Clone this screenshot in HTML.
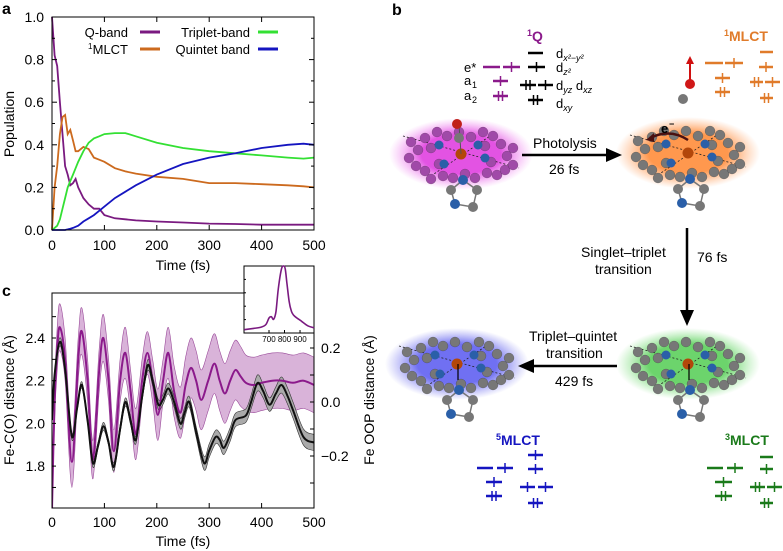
<!DOCTYPE html>
<html><head><meta charset="utf-8"><style>
html,body{margin:0;padding:0;background:#fff;}
svg{display:block;font-family:"Liberation Sans",sans-serif;}
</style></head><body>
<svg id="fig" width="783" height="551" viewBox="0 0 783 551" xmlns="http://www.w3.org/2000/svg">
<defs>
<radialGradient id="gP"><stop offset="0.55" stop-color="#e040e0" stop-opacity="0.9"/><stop offset="1" stop-color="#f080f0" stop-opacity="0"/></radialGradient>
<radialGradient id="gO"><stop offset="0.55" stop-color="#ff8c3a" stop-opacity="0.9"/><stop offset="1" stop-color="#ffa060" stop-opacity="0"/></radialGradient>
<radialGradient id="gG"><stop offset="0.55" stop-color="#5ccf5c" stop-opacity="0.9"/><stop offset="1" stop-color="#80e080" stop-opacity="0"/></radialGradient>
<radialGradient id="gB"><stop offset="0.55" stop-color="#6060f0" stop-opacity="0.9"/><stop offset="1" stop-color="#8080f0" stop-opacity="0"/></radialGradient>
<marker id="ah" viewBox="0 0 10 10" refX="2" refY="5" markerWidth="5" markerHeight="5" orient="auto"><path d="M0,0 L10,5 L0,10 z" fill="#000"/></marker>
</defs>
<g id="pa"></g>
<g id="pc"></g>
<g id="pb"></g>
</svg>
<script>
// ---------- Panel a data ----------
const aTimes = [0,5,10,15,20,25,30,35,40,45,50,60,70,80,90,100,120,140,160,200,250,300,350,400,450,480,500];
const qBand   = [1.0,0.82,0.77,0.6,0.45,0.3,0.26,0.21,0.22,0.24,0.2,0.15,0.12,0.1,0.1,0.07,0.055,0.05,0.045,0.04,0.035,0.03,0.028,0.025,0.025,0.025,0.025];
const mlct1   = [0,0.2,0.3,0.45,0.53,0.54,0.45,0.47,0.42,0.37,0.37,0.39,0.38,0.34,0.33,0.32,0.29,0.275,0.265,0.25,0.24,0.22,0.22,0.215,0.21,0.205,0.2];
const triplet = [0,0.01,0.02,0.05,0.1,0.15,0.2,0.23,0.26,0.29,0.32,0.37,0.41,0.43,0.44,0.45,0.455,0.455,0.44,0.41,0.385,0.37,0.36,0.35,0.34,0.335,0.34];
const quintet = [0,0,0,0,0,0,0.003,0.006,0.01,0.015,0.02,0.04,0.055,0.07,0.09,0.11,0.15,0.18,0.21,0.26,0.31,0.34,0.36,0.385,0.4,0.405,0.4];
const aYTicks = ["0.0","0.2","0.4","0.6","0.8","1.0"];
const xTickLabels = ["0","100","200","300","400","500"];
// ---------- Panel c data ----------
const cTimes = [0,5,10,15,25,38,50,57,68,78,90,98,108,118,130,140,150,160,172,182,192,202,212,222,233,245,255,265,275,285,298,310,320,330,340,350,360,370,385,400,420,440,460,480,500];
const feCO   = [1.6,2.1,2.35,2.45,2.3,1.82,2.3,2.43,2.2,1.83,2.25,2.40,2.2,1.87,2.2,2.33,2.15,1.95,2.2,2.33,2.2,2.04,2.2,2.33,2.15,2.05,2.18,2.26,2.2,2.11,2.2,2.28,2.2,2.14,2.2,2.25,2.22,2.19,2.18,2.19,2.2,2.2,2.19,2.2,2.18];
const feCOSpread = [0.02,0.08,0.1,0.11,0.1,0.12,0.1,0.11,0.1,0.09,0.1,0.11,0.1,0.1,0.1,0.12,0.1,0.12,0.1,0.1,0.1,0.12,0.1,0.12,0.12,0.12,0.13,0.14,0.14,0.14,0.14,0.14,0.14,0.14,0.14,0.14,0.14,0.13,0.13,0.13,0.13,0.13,0.13,0.13,0.13];
const cBlackTimes = [0,5,15,25,38,48,57,68,78,88,98,108,118,130,140,150,160,172,183,193,203,212,222,233,245,253,262,275,290,300,312,320,328,340,350,370,380,392,403,415,427,438,450,460,480,500];
const feOOP  = [-0.067,0.1,0.223,0.12,-0.128,-0.02,0.063,-0.07,-0.226,-0.16,-0.09,-0.15,-0.24,-0.1,0.0,-0.07,-0.14,0.02,0.137,0.07,-0.01,0.01,0.05,0.0,-0.08,-0.04,0.0,-0.11,-0.226,-0.18,-0.13,-0.14,-0.17,-0.12,-0.067,-0.05,0.0,0.07,0.04,-0.01,0.03,0.063,0.02,-0.03,-0.13,-0.15];
const oopSpread = [0.01,0.012,0.015,0.012,0.012,0.012,0.012,0.012,0.015,0.012,0.015,0.012,0.015,0.015,0.015,0.015,0.015,0.015,0.02,0.018,0.018,0.018,0.02,0.02,0.02,0.02,0.02,0.02,0.025,0.025,0.025,0.025,0.025,0.025,0.025,0.025,0.025,0.03,0.025,0.025,0.025,0.03,0.03,0.03,0.03,0.03];
const cLeftTicks = [1.8,2.0,2.2,2.4];
const cLeftLabels = ["1.8","2.0","2.2","2.4"];
const cRightTicks = [-0.2,0,0.2];
const cRightLabels = ["\u22120.2","0.0","0.2"];
// inset spectrum
const specFreq = [540,600,650,680,700,715,730,745,760,780,795,805,815,830,845,860,880,910,950,990];
const specInt  = [0.02,0.04,0.06,0.1,0.2,0.22,0.18,0.3,0.65,0.95,1.0,0.95,0.75,0.45,0.3,0.24,0.2,0.15,0.08,0.05];
const insetTicks = [700,800,900];

const NS="http://www.w3.org/2000/svg";
function el(tag,attrs,parent){const e=document.createElementNS(NS,tag);for(const k in attrs)e.setAttribute(k,attrs[k]);parent.appendChild(e);return e;}
function txt(s,x,y,parent,o){const t=el('text',Object.assign({x:x,y:y,'font-size':14,fill:'#000'},o||{}),parent);t.textContent=s;return t;}
function poly(xs,ys){return xs.map((x,i)=>(i?'L':'M')+x.toFixed(1)+','+ys[i].toFixed(1)).join('');}
function smooth(xs,ys){let d='M'+xs[0]+','+ys[0];for(let i=0;i<xs.length-1;i++){const x0=xs[Math.max(0,i-1)],y0=ys[Math.max(0,i-1)],x1=xs[i],y1=ys[i],x2=xs[i+1],y2=ys[i+1],x3=xs[Math.min(xs.length-1,i+2)],y3=ys[Math.min(xs.length-1,i+2)];d+='C'+(x1+(x2-x0)/6).toFixed(1)+','+(y1+(y2-y0)/6).toFixed(1)+' '+(x2-(x3-x1)/6).toFixed(1)+','+(y2-(y3-y1)/6).toFixed(1)+' '+x2.toFixed(1)+','+y2.toFixed(1);}return d;}

// ===== Panel a =====
(function(){
const g=document.getElementById('pa');
const L=52,R=314,T=17,B=230;
const X=t=>L+(t/500)*(R-L), Y=v=>B-v*(B-T);
let t=txt('a',2,14,g,{'font-weight':'bold','font-size':16});


const series=[[qBand,'#7a1a80','q-band-line'],[mlct1,'#cc6a1e','mlct1-line'],[triplet,'#33e033','triplet-band-line'],[quintet,'#1515c0','quintet-band-line']];
series.forEach(s=>{const p=el('path',{d:poly(aTimes.map(X),s[0].map(Y)),fill:'none',stroke:s[1],'stroke-width':1.8},g);

});
const fr=el('rect',{x:L,y:T,width:R-L,height:B-T,fill:'none',stroke:'#000','stroke-width':1},g);


for(let i=0;i<=10;i++){const y=Y(i/10),len=i%2?3:5;el('line',{x1:L,x2:L+len,y1:y,y2:y,stroke:'#000'},g);el('line',{x1:R,x2:R-len,y1:y,y2:y,stroke:'#000'},g);}
for(let i=0;i<=5;i++){const x=X(i*100);el('line',{x1:x,x2:x,y1:B,y2:B-5,stroke:'#000'},g);el('line',{x1:x,x2:x,y1:T,y2:T+5,stroke:'#000'},g);
const l=txt(xTickLabels[i],x,250,g,{'text-anchor':'middle'});

}
aYTicks.forEach((s,i)=>{const l=txt(s,44,Y(i*0.2)+5,g,{'text-anchor':'end'});

});
let xt=txt('Time (fs)',183,270,g,{'text-anchor':'middle'});


let yt=txt('Population',0,0,g,{'text-anchor':'middle',transform:'translate(14,124) rotate(-90)'});


const leg=[['Q-band',128,37,140,32,'#7a1a80'],['MLCT',128,54,140,49,'#cc6a1e'],['Triplet-band',250,37,258,32,'#33e033'],['Quintet band',250,54,258,49,'#1515c0']];
leg.forEach((e,i)=>{const lg=el('g',{},g);


const tt=txt(e[0],e[1],e[2],lg,{'text-anchor':'end','font-size':13});
if(i==1){const s=el('tspan',{'font-size':8,dy:-5},tt);s.textContent='';const sp=el('text',{x:e[1]-40,y:e[2]-5,'font-size':8},lg);sp.textContent='1';}
el('line',{x1:e[3],x2:e[3]+20,y1:e[4],y2:e[4],stroke:e[5],'stroke-width':3},lg);});
})();

// ===== Panel c =====
(function(){
const g=document.getElementById('pc');
const L=52,R=314,T=293,B=508;
const X=t=>L+(t/500)*(R-L);
const YL=v=>338-(v-2.4)*213.5;
const YR=v=>402-v*270;
let t=txt('c',2,296,g,{'font-weight':'bold','font-size':16});


const cl=el('clipPath',{id:'cclip'},g);el('rect',{x:L,y:T,width:R-L,height:B-T},cl);
const pg=el('g',{'clip-path':'url(#cclip)'},g);
// purple band
const xs=cTimes.map(X);
const up=feCO.map((v,i)=>YL(v+feCOSpread[i])), dn=feCO.map((v,i)=>YL(v-feCOSpread[i]));
const band=el('path',{d:smooth(xs,up)+'L'+smooth(xs.slice().reverse(),dn.slice().reverse()).slice(1)+'Z',fill:'#d9b3d9',stroke:'#9a4a9a','stroke-width':0.6},pg);


const bx=cBlackTimes.map(X);
const bu=feOOP.map((v,i)=>YR(v+oopSpread[i])), bd=feOOP.map((v,i)=>YR(v-oopSpread[i]));
const bband=el('path',{d:smooth(bx,bu)+'L'+smooth(bx.slice().reverse(),bd.slice().reverse()).slice(1)+'Z',fill:'#aaa',stroke:'#333','stroke-width':0.6},pg);


const pl=el('path',{d:smooth(xs,feCO.map(YL)),fill:'none',stroke:'#8b1a8b','stroke-width':2},pg);


const bl=el('path',{d:smooth(bx,feOOP.map(YR)),fill:'none',stroke:'#111','stroke-width':2},pg);


const fr=el('rect',{x:L,y:T,width:R-L,height:B-T,fill:'none',stroke:'#000'},g);


for(let v=1.7;v<=2.55;v+=0.1){const y=YL(v);el('line',{x1:L,x2:L+4,y1:y,y2:y,stroke:'#000'},g);}
cLeftTicks.forEach((v,i)=>{const l=txt(cLeftLabels[i],45,YL(v)+5,g,{'text-anchor':'end'});

});
for(let v=-0.3;v<=0.31;v+=0.1){const y=YR(v);el('line',{x1:R,x2:R-4,y1:y,y2:y,stroke:'#000'},g);}
cRightTicks.forEach((v,i)=>{const l=txt(cRightLabels[i],321,YR(v)+5,g,{'text-anchor':'start'});

});
for(let i=0;i<=5;i++){const x=X(i*100);el('line',{x1:x,x2:x,y1:B,y2:B-5,stroke:'#000'},g);
const l=txt(xTickLabels[i],x,527,g,{'text-anchor':'middle'});

}
let xt=txt('Time (fs)',183,546,g,{'text-anchor':'middle'});


let yt=txt('Fe-C(O) distance (Å)',0,0,g,{'text-anchor':'middle',transform:'translate(14,400) rotate(-90)'});


let yr=txt('Fe OOP distance (Å)',0,0,g,{'text-anchor':'middle',transform:'translate(374,400) rotate(-90)'});


// inset
const ig=el('g',{},g);


const iL=244,iR=314,iT=266,iB=333;
el('rect',{x:iL,y:iT,width:iR-iL,height:iB-iT,fill:'#fff',stroke:'#000'},ig);
const IX=f=>iL+(f-539)/(990-539)*(iR-iL), IY=v=>iB-2-v*(iB-iT-2);
const sp=el('path',{d:smooth(specFreq.map(IX),specInt.map(IY)),fill:'none',stroke:'#7a1a80','stroke-width':1.6},ig);


insetTicks.forEach(f=>{el('line',{x1:IX(f),x2:IX(f),y1:iB,y2:iB-3,stroke:'#000'},ig);
const l=txt(String(f),IX(f),342,ig,{'text-anchor':'middle','font-size':8});

});
for(let i=1;i<5;i++){const y=iT+i*(iB-iT)/5;el('line',{x1:iL,x2:iL+2,y1:y,y2:y,stroke:'#000'},ig);}
})();

// ===== Panel b =====
(function(){
const g=document.getElementById('pb');
let t=txt('b',392,15,g,{'font-weight':'bold','font-size':16});


function molecule(cx,cy,grad,ringCol,name,co,down){
const m=el('g',{},g);


el('ellipse',{cx:cx,cy:cy,rx:72,ry:36,fill:'url(#'+grad+')'},m);
el('line',{x1:cx-58,y1:cy-18,x2:cx+58,y2:cy+14,stroke:'#222','stroke-dasharray':'2,2','stroke-width':0.8},m);
el('line',{x1:cx-30,y1:cy+22,x2:cx+35,y2:cy-22,stroke:'#222','stroke-dasharray':'2,2','stroke-width':0.8},m);
const ring=[[-50,-12],[-43,-4],[-52,4],[-45,12],[-36,17],[-30,25],[-18,22],[-8,24],[4,20],[14,24],[26,19],[36,21],[44,16],[52,11],[46,2],[52,-6],[40,-10],[32,-18],[22,-22],[10,-17],[-2,-22],[-14,-18],[-24,-22],[-36,-16],[-30,-6],[24,-8],[30,8],[-22,10]];
ring.forEach(p=>el('circle',{cx:cx+p[0],cy:cy+p[1],r:5,fill:ringCol,stroke:'rgba(0,0,0,0.3)','stroke-width':0.5},m));
[[-22,-9],[17,-9],[-17,10],[24,4]].forEach(p=>el('circle',{cx:cx+p[0],cy:cy+p[1],r:4.5,fill:'#2a5fa8'},m));
el('circle',{cx:cx,cy:cy,r:5.5,fill:'#b3470a'},m);
if(co){el('line',{x1:cx,y1:cy,x2:cx-2,y2:cy-30,stroke:'#555'},m);el('circle',{cx:cx-2,cy:cy-16,r:5,fill:'#777'},m);el('circle',{cx:cx-4,cy:cy-30,r:5,fill:'#c0201a'},m);}
if(down){el('line',{x1:cx+1,y1:cy,x2:cx+1,y2:cy+16,stroke:'#000','stroke-width':1.2},m);}
const im=[[2,26,'#2a5fa8'],[-10,36,'#777'],[16,36,'#777'],[-6,50,'#2a5fa8'],[12,53,'#777']];
el('path',{d:`M${cx+2},${cy+26}L${cx-10},${cy+36}L${cx-6},${cy+50}L${cx+12},${cy+53}L${cx+16},${cy+36}Z`,fill:'none',stroke:'#777','stroke-width':1.5},m);
im.forEach(p=>el('circle',{cx:cx+p[0],cy:cy+p[1],r:5,fill:p[2]},m));
}
molecule(461,154,'gP','#a04aa8','molecule-1q',true,false);
molecule(688,153,'gO','#777','molecule-1mlct',false,false);
molecule(688,364,'gG','#777','molecule-3mlct',false,true);
molecule(457,364,'gB','#777','molecule-5mlct',false,true);
// electron arrow on orange
el('path',{d:'M688,140 Q670,128 650,138',fill:'none',stroke:'#4a1010','stroke-width':2.5},g);
el('path',{d:'M646,140 L654,133 L654,142 z',fill:'#4a1010'},g);
txt('e',661,133,g,{'font-weight':'bold','font-size':13});
txt('−',669,127,g,{'font-size':9,'font-weight':'bold'});
// arrows
function arrow(x1,y1,x2,y2,name){const a=el('g',{},g);


const dx=x2-x1,dy=y2-y1,len=Math.hypot(dx,dy),ux=dx/len,uy=dy/len;
el('line',{x1:x1,y1:y1,x2:x2-ux*12,y2:y2-uy*12,stroke:'#000','stroke-width':2.5},a);
el('path',{d:`M${x2},${y2}L${x2-ux*16-uy*7},${y2-uy*16+ux*7}L${x2-ux*16+uy*7},${y2-uy*16-ux*7}Z`,fill:'#000'},a);}
arrow(522,155,622,155,'photolysis-arrow');
arrow(687,228,687,326,'singlet-triplet-arrow');
arrow(617,366,518,366,'triplet-quintet-arrow');
txt('Photolysis',533,148,g,{'font-size':14});
txt('26 fs',549,174,g,{'font-size':14});
txt('Singlet–triplet',581,257,g,{'font-size':14});
txt('transition',595,274,g,{'font-size':14});
txt('76 fs',697,262,g,{'font-size':14});
txt('Triplet–quintet',529,341,g,{'font-size':14});
txt('transition',546,358,g,{'font-size':14});
txt('429 fs',555,386,g,{'font-size':14});
// state labels
function stateLabel(sup,name,x,y,col,dn){const s=el('text',{x:x,y:y,fill:col,'font-weight':'bold','font-size':14},g);


const a=el('tspan',{'font-size':9,dy:-5},s);a.textContent=sup;const b=el('tspan',{dy:5},s);b.textContent=name;}
stateLabel('1','Q',527,41,'#8b1a8b','label-1q');
stateLabel('1','MLCT',724,41,'#e07b2a','label-1mlct');
stateLabel('5','MLCT',496,445,'#1515c0','label-5mlct');
stateLabel('3','MLCT',725,445,'#1a7a1a','label-3mlct');
// energy levels: [x1,x2,y,electrons]
function level(x1,x2,y,n,col){el('line',{x1:x1,x2:x2,y1:y,y2:y,stroke:col,'stroke-width':2.5},g);
const mid=(x1+x2)/2;
if(n==1){el('line',{x1:mid,x2:mid,y1:y-5,y2:y+5,stroke:col,'stroke-width':1.5},g);}
if(n==2){el('line',{x1:mid-2,x2:mid-2,y1:y-5,y2:y+5,stroke:col,'stroke-width':1.5},g);el('line',{x1:mid+2,x2:mid+2,y1:y-5,y2:y+5,stroke:col,'stroke-width':1.5},g);}}
const P='#8b1a8b',K='#000',O='#e07b2a',Bl='#1515c0',G='#1a7a1a';
[[483,500,67,0],[503,520,67,1],[493,508,81,1],[493,508,96,2]].forEach(l=>level(l[0],l[1],l[2],l[3],P));
[[528,543,53,0],[528,545,67,1],[520,536,85,2],[538,553,85,1],[528,543,100,2]].forEach(l=>level(l[0],l[1],l[2],l[3],K));
txt('e*',464,72,g,{'font-size':13});
txt('a',464,85,g,{'font-size':13});txt('1',472,88,g,{'font-size':9});
txt('a',464,100,g,{'font-size':13});txt('2',472,103,g,{'font-size':9});
function dlab(y,sub){const tt=txt('d',556,y,g,{'font-size':13});const s=el('tspan',{'font-size':9,dy:3,'font-style':'italic'},tt);s.textContent=sub;}
dlab(58,'x²−y²');dlab(72,'z²');dlab(108,'xy');
const dd=txt('d',556,90,g,{'font-size':13});const s1=el('tspan',{'font-size':9,dy:3,'font-style':'italic'},dd);s1.textContent='yz';const s2=el('tspan',{dy:-3},dd);s2.textContent=' d';const s3=el('tspan',{'font-size':9,dy:3,'font-style':'italic'},dd);s3.textContent='xz';
// orange
[[705,723,63,0],[725,743,63,1],[715,730,78,1],[715,730,92,2],[760,773,52,0],[759,773,67,1],[750,763,82,2],[765,780,82,1],[760,773,98,2]].forEach(l=>level(l[0],l[1],l[2],l[3],O));
el('line',{x1:690,y1:85,x2:690,y2:62,stroke:'#d01010','stroke-width':2},g);
el('path',{d:'M690,56 L686,64 L694,64 Z',fill:'#d01010'},g);
el('circle',{cx:683,cy:99,r:5,fill:'#777'},g);
el('circle',{cx:690,cy:84,r:5,fill:'#d01818'},g);
// blue
[[477,493,468,0],[497,513,468,1],[486,502,482,1],[486,502,496,2],[528,543,455,1],[528,543,469,1],[520,535,487,1],[538,553,487,1],[528,543,503,2]].forEach(l=>level(l[0],l[1],l[2],l[3],Bl));
// green
[[707,723,468,0],[727,743,468,1],[715,732,482,1],[715,732,496,2],[760,773,457,0],[760,773,469,1],[750,765,487,2],[767,782,487,1],[760,773,503,2]].forEach(l=>level(l[0],l[1],l[2],l[3],G));
})();
</script>
</body></html>
